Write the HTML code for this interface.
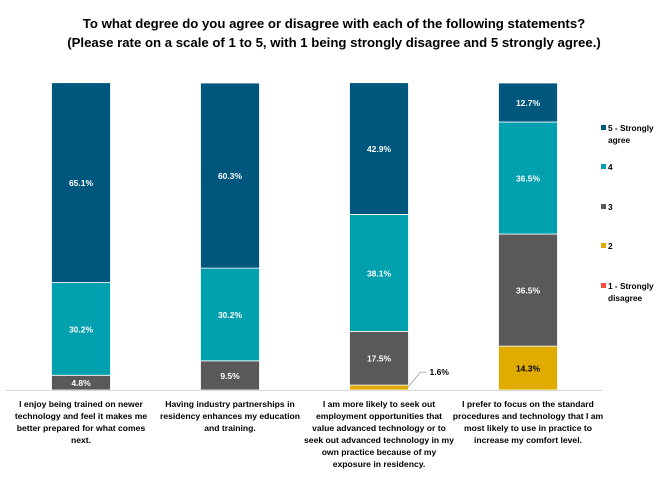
<!DOCTYPE html>
<html><head><meta charset="utf-8">
<style>
body{margin:0;background:#fff;font-family:"Liberation Sans",sans-serif;}
svg text{font-family:"Liberation Sans",sans-serif;}
</style></head>
<body>
<svg width="669" height="475" viewBox="0 0 669 475">
<text x="334" y="28" text-anchor="middle" font-size="13.2" font-weight="bold" fill="#000">To what degree do you agree or disagree with each of the following statements?</text>
<text x="334" y="47" text-anchor="middle" font-size="13.2" font-weight="bold" fill="#000">(Please rate on a scale of 1 to 5, with 1 being strongly disagree and 5 strongly agree.)</text>
<g id="bars"></g>
<line x1="6" y1="390.5" x2="602" y2="390.5" stroke="#d9d9d9" stroke-width="1"/>
<g id="labels"></g>
<g id="legend"></g>
</svg>
<script>
const categories=[
 ["I enjoy being trained on newer","technology and feel it makes me","better prepared for what comes","next."],
 ["Having industry partnerships in","residency enhances my education","and training."],
 ["I am more likely to seek out","employment opportunities that","value advanced technology or to","seek out advanced technology in my","own practice because of my","exposure in residency."],
 ["I prefer to focus on the standard","procedures and technology that I am","most likely to use in practice to","increase my comfort level."]
];
const seriesNames=["1 - Strongly disagree","2","3","4","5 - Strongly agree"];
const s1=[0,0,0,0];
const s2=[0,0,1.6,14.3];
const s3=[4.8,9.5,17.5,36.5];
const s4=[30.2,30.2,38.1,36.5];
const s5=[65.1,60.3,42.9,12.7];
const series=[s1,s2,s3,s4,s5];
const colors=["#FF4B3E","#E0AC00","#595959","#00A0AE","#00577D"];
const NS="http://www.w3.org/2000/svg";
const yTop=83,yBot=390,barW=59,x0=81,step=149;
function y(v){return yBot-(yBot-yTop)*v/100;}
function xc(i){return x0+step*i;}
const gb=document.getElementById('bars');
categories.forEach((c,i)=>{
  let cum=0;
  series.forEach((s,k)=>{
    const v=s[i]; if(v<=0){return;}
    const r=document.createElementNS(NS,'rect');
    r.setAttribute('x',xc(i)-barW/2);r.setAttribute('y',y(cum+v));
    r.setAttribute('width',barW);r.setAttribute('height',y(cum)-y(cum+v));
    r.setAttribute('fill',colors[k]);r.setAttribute('stroke','#fff');r.setAttribute('stroke-width','0.8');
    
    
    gb.appendChild(r);
    const t=document.createElementNS(NS,'text');
    t.setAttribute('font-size','8.5');t.setAttribute('font-weight','bold');
    if(v<3){
      t.setAttribute('x',xc(i)+barW/2+21);t.setAttribute('y',y(cum+v)-10);t.setAttribute('fill','#000');
      const l=document.createElementNS(NS,'polyline');
      l.setAttribute('points',(xc(i)+barW/2-1)+','+(y(cum+v/2))+' '+(xc(i)+barW/2+12)+','+(y(cum+v)-13)+' '+(xc(i)+barW/2+18)+','+(y(cum+v)-13));
      l.setAttribute('fill','none');l.setAttribute('stroke','#999');l.setAttribute('stroke-width','0.8');
      
      
      gb.appendChild(l);
    } else {
      t.setAttribute('x',xc(i));t.setAttribute('y',(y(cum)+y(cum+v))/2+3.5);t.setAttribute('text-anchor','middle');
      t.setAttribute('fill',k===1?'#000':'#fff');
    }
    t.textContent=v.toFixed(1)+'%';
    
    
    gb.appendChild(t);
    cum+=v;
  });
});
const gl=document.getElementById('labels');
categories.forEach((lines,i)=>{
  lines.forEach((ln,j)=>{
    const t=document.createElementNS(NS,'text');
    t.setAttribute('x',xc(i));t.setAttribute('y',407+j*12);t.setAttribute('text-anchor','middle');
    t.setAttribute('font-size','8.6');t.setAttribute('font-weight','bold');t.setAttribute('fill','#000');
    t.textContent=ln;
    
    
    gl.appendChild(t);
  });
});
const lg=document.getElementById('legend');
const legY=[289,249,210,170,131];
seriesNames.forEach((n,k)=>{
  const parts=n.includes(' - ')?[n.split(' - ')[0]+' - '+n.split(' - ')[1].split(' ')[0],n.split(' ')[3]]:[n];
  const r=document.createElementNS(NS,'rect');
  r.setAttribute('x',601);r.setAttribute('y',legY[k]-6);r.setAttribute('width',5);r.setAttribute('height',5);r.setAttribute('fill',colors[k]);
  
  
  lg.appendChild(r);
  parts.forEach((p,j)=>{
    const t=document.createElementNS(NS,'text');
    t.setAttribute('x',608);t.setAttribute('y',legY[k]+j*12);t.setAttribute('font-size','8.3');t.setAttribute('font-weight','bold');t.setAttribute('fill','#000');
    t.textContent=p;
    
    
    lg.appendChild(t);
  });
});
</script>
</body></html>
